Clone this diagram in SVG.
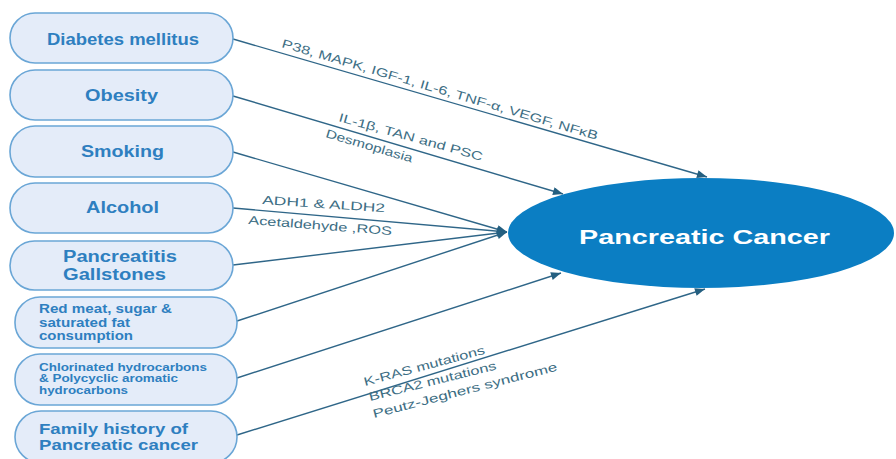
<svg xmlns="http://www.w3.org/2000/svg" width="896" height="459" viewBox="0 0 896 459">
  <defs>
    <marker id="arr" viewBox="0 0 10 8" refX="10" refY="4" markerWidth="11" markerHeight="8" markerUnits="userSpaceOnUse" orient="auto">
      <path d="M0,0 L10,4 L0,8 z" fill="#245f80"/>
    </marker>
  </defs>
  <style>
    .node rect { fill: #e4ecf9; stroke: #6aa6d6; stroke-width: 1.6; }
    .nt { font-family: "Liberation Sans", Arial, sans-serif; font-weight: bold; fill: #2e7fc0; }
    .conn line { stroke: #2f6688; stroke-width: 1.4; marker-end: url(#arr); }
    .lbl { font-family: "Liberation Sans", Arial, sans-serif; font-size: 12px; fill: #3d6e84; }
  </style>
  <rect width="896" height="459" fill="#ffffff"/>

  <g class="conn" id="connectors">
    <line x1="233" y1="39" x2="707" y2="177"/>
    <line x1="233" y1="96" x2="563" y2="194"/>
    <line x1="233" y1="152" x2="507" y2="232"/>
    <line x1="233" y1="208" x2="507" y2="232"/>
    <line x1="233" y1="265" x2="507" y2="232"/>
    <line x1="237" y1="321" x2="507" y2="232"/>
    <line x1="237" y1="378" x2="561" y2="273"/>
    <line x1="237" y1="435" x2="705" y2="289"/>
  </g>

  <g id="labels">
    <text class="lbl" x="281" y="47" transform="rotate(16.4 281 47)" textLength="329" lengthAdjust="spacingAndGlyphs">P38, MAPK, IGF-1, IL-6, TNF-α, VEGF, NFκB</text>
    <text class="lbl" x="338" y="121" transform="rotate(15.5 338 121)" textLength="149" lengthAdjust="spacingAndGlyphs">IL-1β, TAN and PSC</text>
    <text class="lbl" x="325" y="137" transform="rotate(16.5 325 137)" textLength="90" lengthAdjust="spacingAndGlyphs">Desmoplasia</text>
    <text class="lbl" x="262" y="204" transform="rotate(3.8 262 204)" textLength="123" lengthAdjust="spacingAndGlyphs">ADH1 &amp; ALDH2</text>
    <text class="lbl" x="248" y="224" transform="rotate(4.4 248 224)" textLength="144" lengthAdjust="spacingAndGlyphs">Acetaldehyde ,ROS</text>
    <text class="lbl" x="365" y="386" transform="rotate(-15 365 386)" textLength="125" lengthAdjust="spacingAndGlyphs">K-RAS mutations</text>
    <text class="lbl" x="370" y="401" transform="rotate(-14 370 401)" textLength="131" lengthAdjust="spacingAndGlyphs">BRCA2 mutations</text>
    <text class="lbl" x="374" y="418" transform="rotate(-14.5 374 418)" textLength="190" lengthAdjust="spacingAndGlyphs">Peutz-Jeghers syndrome</text>
  </g>

  <g id="n1" class="node">
    <rect x="10" y="13" width="223" height="50" rx="25"/>
    <text class="nt" x="47" y="45" font-size="16" textLength="152" lengthAdjust="spacingAndGlyphs">Diabetes mellitus</text>
  </g>
  <g id="n2" class="node">
    <rect x="10" y="70" width="223" height="50" rx="25"/>
    <text class="nt" x="85" y="101" font-size="16" textLength="73" lengthAdjust="spacingAndGlyphs">Obesity</text>
  </g>
  <g id="n3" class="node">
    <rect x="10" y="126" width="223" height="51" rx="25"/>
    <text class="nt" x="81" y="157" font-size="16" textLength="83" lengthAdjust="spacingAndGlyphs">Smoking</text>
  </g>
  <g id="n4" class="node">
    <rect x="10" y="183" width="223" height="50" rx="25"/>
    <text class="nt" x="86" y="213" font-size="16" textLength="73" lengthAdjust="spacingAndGlyphs">Alcohol</text>
  </g>
  <g id="n5" class="node">
    <rect x="10" y="241" width="223" height="49" rx="24.5"/>
    <text class="nt" x="63" y="262" font-size="16" textLength="114" lengthAdjust="spacingAndGlyphs">Pancreatitis</text>
    <text class="nt" x="63" y="280" font-size="16" textLength="103" lengthAdjust="spacingAndGlyphs">Gallstones</text>
  </g>
  <g id="n6" class="node">
    <rect x="15" y="297" width="222" height="51" rx="25"/>
    <text class="nt" x="39" y="313" font-size="12" textLength="133" lengthAdjust="spacingAndGlyphs">Red meat, sugar &amp;</text>
    <text class="nt" x="39" y="327" font-size="12" textLength="91" lengthAdjust="spacingAndGlyphs">saturated fat</text>
    <text class="nt" x="39" y="340" font-size="12" textLength="94" lengthAdjust="spacingAndGlyphs">consumption</text>
  </g>
  <g id="n7" class="node">
    <rect x="15" y="354" width="222" height="51" rx="25"/>
    <text class="nt" x="39" y="371" font-size="11" textLength="168" lengthAdjust="spacingAndGlyphs">Chlorinated hydrocarbons</text>
    <text class="nt" x="39" y="382" font-size="11" textLength="139" lengthAdjust="spacingAndGlyphs">&amp; Polycyclic aromatic</text>
    <text class="nt" x="39" y="394" font-size="11" textLength="89" lengthAdjust="spacingAndGlyphs">hydrocarbons</text>
  </g>
  <g id="n8" class="node">
    <rect x="15" y="411" width="222" height="52" rx="26"/>
    <text class="nt" x="39" y="434" font-size="15" textLength="149" lengthAdjust="spacingAndGlyphs">Family history of</text>
    <text class="nt" x="39" y="450" font-size="15" textLength="159" lengthAdjust="spacingAndGlyphs">Pancreatic cancer</text>
  </g>

  <g id="center">
    <ellipse cx="701" cy="233" rx="193" ry="55" fill="#0b7ec3"/>
    <text x="579" y="244" font-family="'Liberation Sans', Arial, sans-serif" font-weight="bold" font-size="20" fill="#ffffff" textLength="251" lengthAdjust="spacingAndGlyphs">Pancreatic Cancer</text>
  </g>
</svg>
